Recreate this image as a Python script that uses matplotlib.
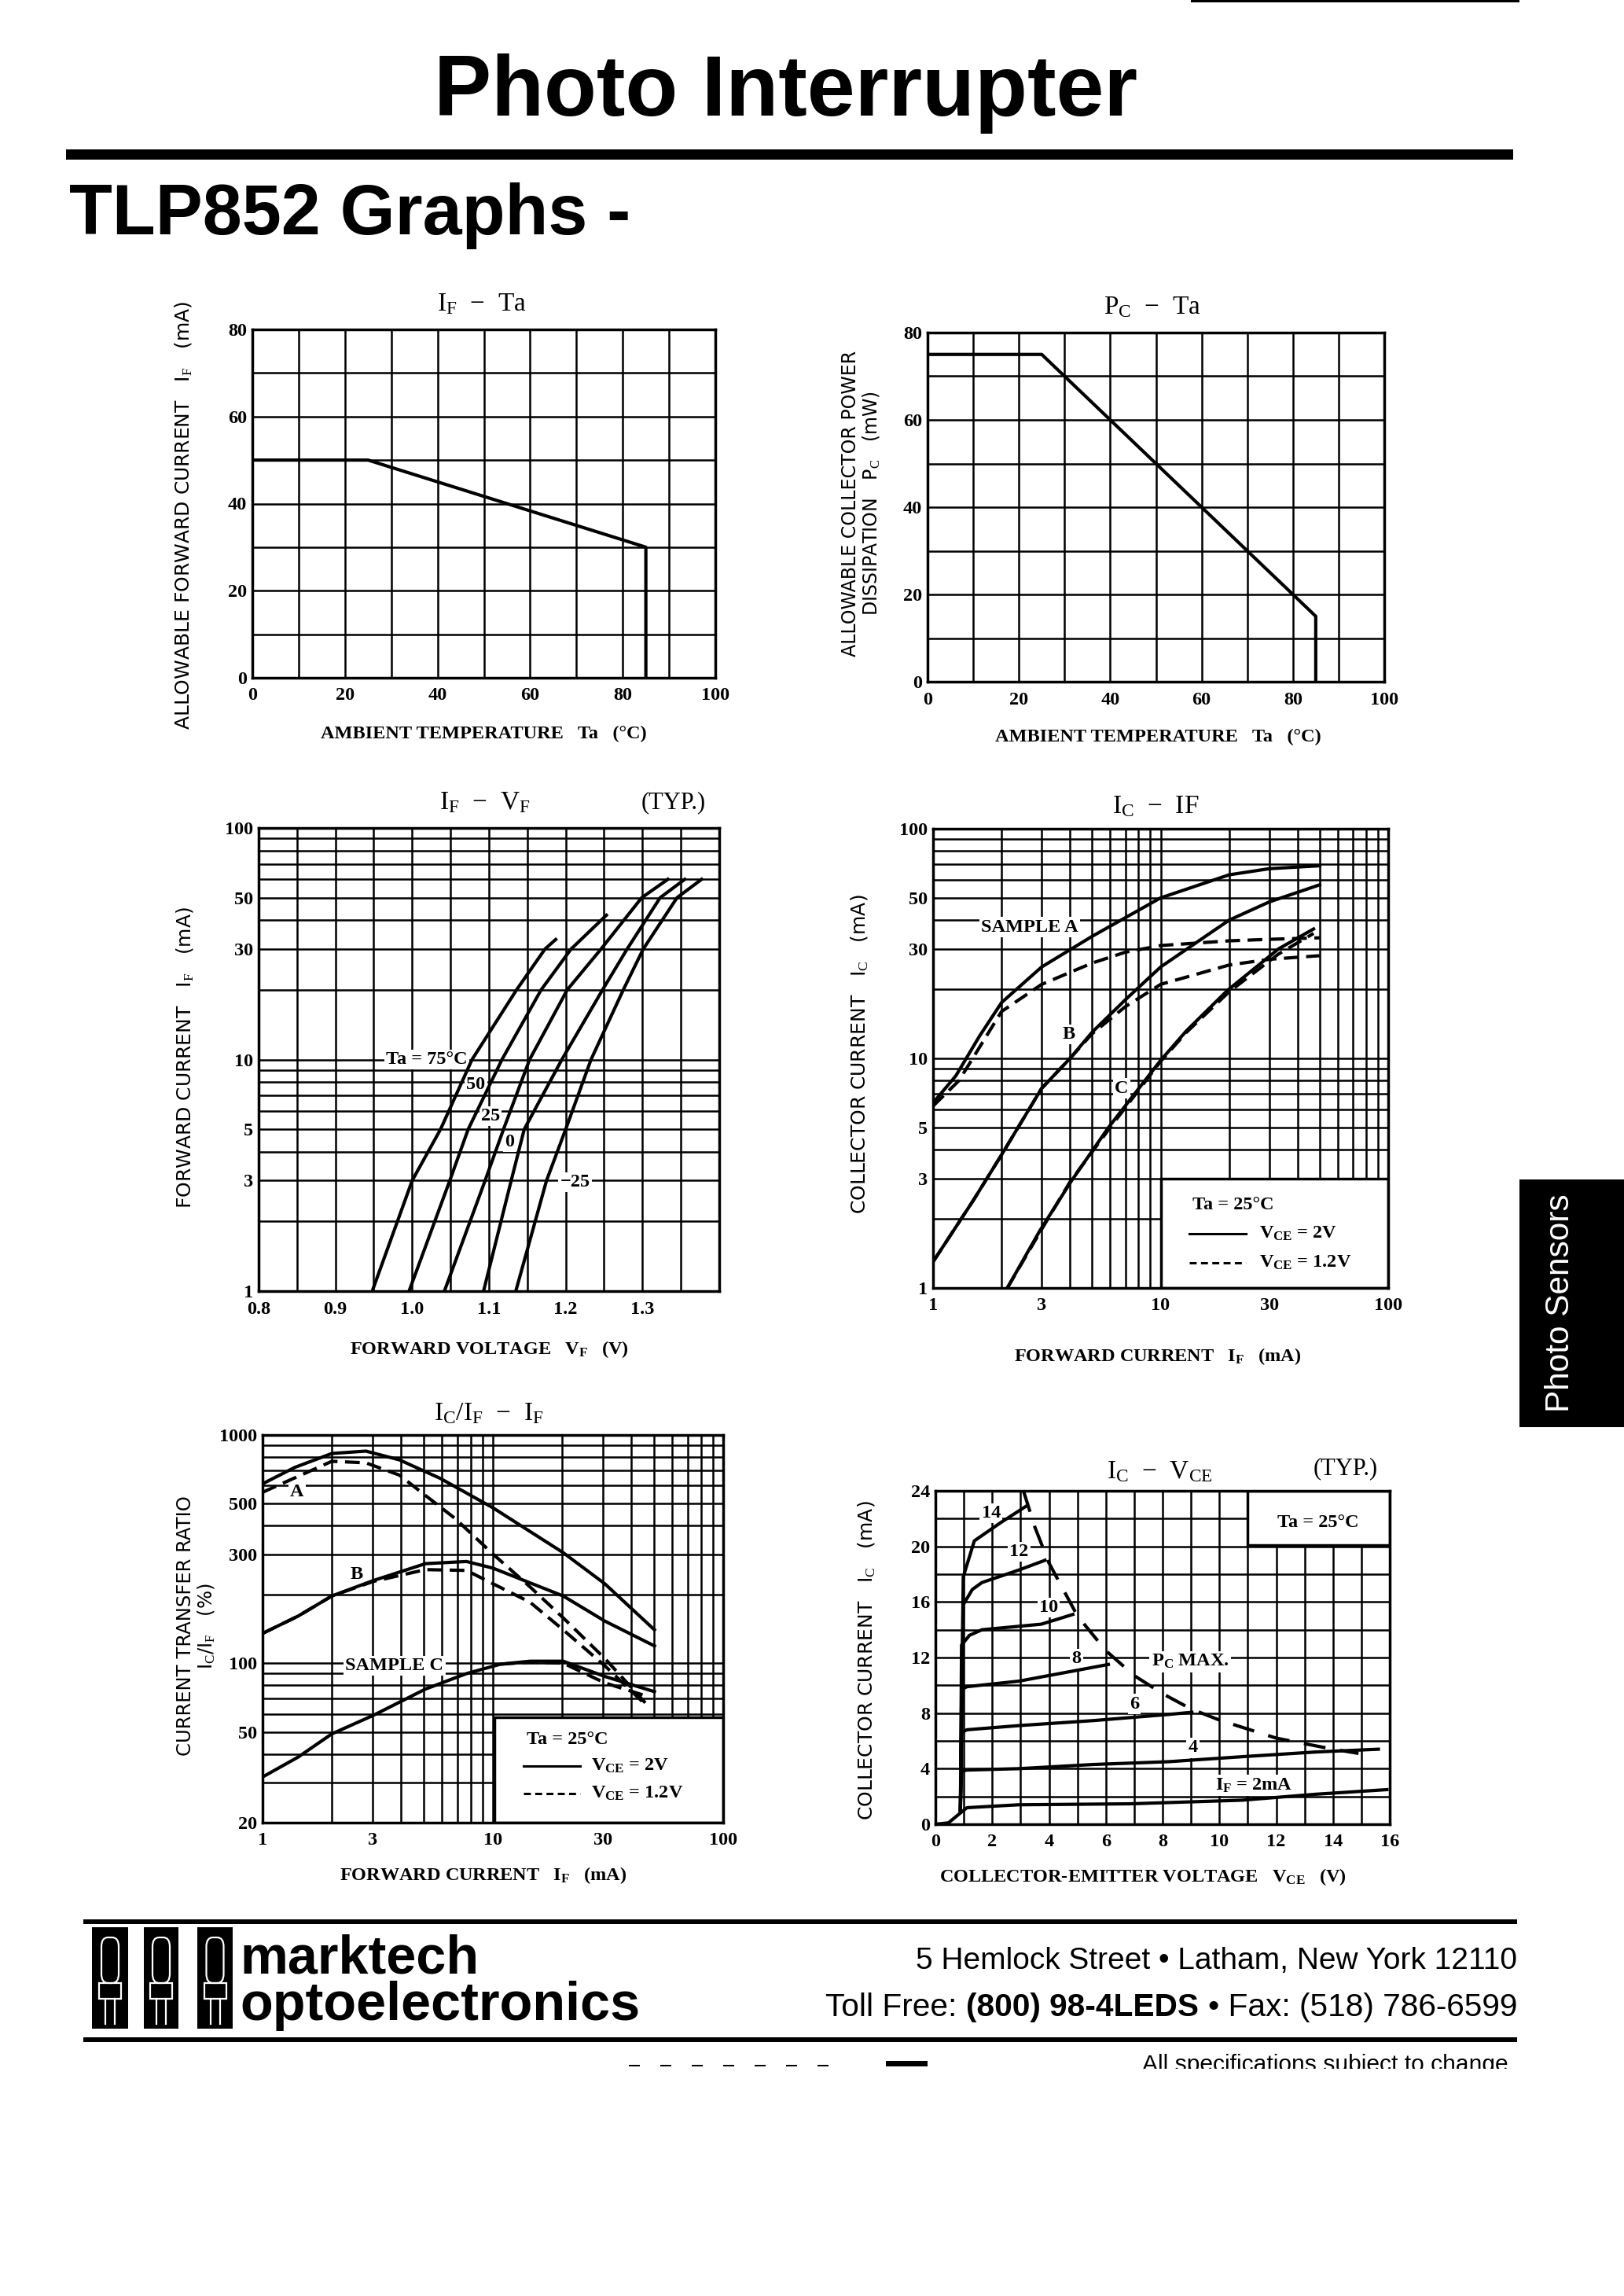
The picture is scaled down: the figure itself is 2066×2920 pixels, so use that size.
import matplotlib
matplotlib.use("Agg")
import matplotlib.pyplot as plt
from matplotlib.ticker import MultipleLocator, LogLocator, NullFormatter
from matplotlib.patches import Rectangle, FancyBboxPatch
from matplotlib.lines import Line2D
from matplotlib import font_manager

# ---------------------------------------------------------------- data
# IF - Ta
ifta_ta = [0, 25, 85, 85]
ifta_if = [50, 50, 30, 0]
# PC - Ta
pcta_ta = [0, 25, 85, 85]
pcta_pc = [75, 75, 15, 0]

# IF - VF  (Ta = 75, 50, 25, 0, -25 degC)
vf_75 = [0.948, 1.000, 1.037, 1.078, 1.136, 1.173, 1.187]
if_75 = [1.0, 3.0, 5.0, 10.0, 20.0, 30.0, 33.0]
vf_50 = [0.996, 1.049, 1.073, 1.117, 1.168, 1.207, 1.253]
if_50 = [1.0, 3.0, 5.0, 10.0, 20.0, 30.0, 42.0]
vf_25 = [1.042, 1.095, 1.119, 1.153, 1.202, 1.246, 1.299, 1.333]
if_25 = [1.0, 3.0, 5.0, 10.0, 20.0, 30.0, 50.0, 60.0]
vf_0 = [1.093, 1.129, 1.146, 1.195, 1.248, 1.280, 1.323, 1.355]
if_0 = [1.0, 3.0, 5.0, 10.0, 20.0, 30.0, 50.0, 60.0]
vf_m25 = [1.135, 1.175, 1.200, 1.233, 1.275, 1.301, 1.345, 1.377]
if_m25 = [1.0, 3.0, 5.0, 10.0, 20.0, 30.0, 50.0, 60.0]

# IC - IF  (samples A, B, C; VCE = 2 V solid, 1.2 V dashed)
icif_a_if = [1, 1.26, 1.6, 2.0, 3.0, 5.0, 10, 20, 30, 50]
icif_a_ic = [6.4, 8.4, 12.5, 17.5, 25, 34, 50, 63, 67, 69]
icif_a_if_d = [1, 1.3, 2.0, 3.0, 5.0, 7, 10, 20, 30, 50]
icif_a_ic_d = [6.2, 8.0, 16, 21, 26, 29, 31, 32.5, 33, 33.5]
icif_b_if = [1, 1.5, 2, 3, 4, 5, 7, 10, 20, 30, 50]
icif_b_ic = [1.3, 2.4, 3.8, 7.4, 10, 13, 18, 25, 40, 48, 57]
icif_b_if_d = [1, 1.5, 2, 3, 4, 5, 7, 10, 20, 30, 50]
icif_b_ic_d = [1.3, 2.4, 3.8, 7.4, 10, 12.8, 16.8, 21, 25.5, 27, 28]
icif_c_if = [2.12, 2.94, 4.05, 5.9, 10, 13, 19.7, 33, 47]
icif_c_ic = [1, 1.77, 2.92, 5.0, 9.8, 13.2, 19.8, 30, 36.6]
icif_c_if_d = [2.12, 3, 4, 6, 10, 13, 20, 33, 47]
icif_c_ic_d = [1, 1.8, 2.9, 5.0, 9.7, 13, 19.5, 28.5, 35]

# IC/IF - IF
ctr_a_if = [1, 1.38, 2.0, 2.81, 3.93, 5.9, 10, 20.2, 30.6, 50.3]
ctr_a = [611, 721, 830, 850, 778, 646, 480, 305, 223, 140]
ctr_a_if_d = [1, 2.0, 2.81, 3.93, 5.1, 6.87, 10, 14.5, 20.2, 30.6, 45.9]
ctr_a_d = [561, 767, 755, 667, 543, 430, 301, 216, 158, 105, 67]
ctr_b_if = [1, 1.43, 2.0, 3.02, 5.1, 7.68, 10, 20.2, 30.6, 50.3]
ctr_b = [135, 161, 197, 230, 273, 279, 261, 197, 153, 119]
ctr_b_if_d = [1, 1.43, 2.0, 3.02, 5.1, 7.68, 10, 14.5, 20.2, 30.6, 45.9]
ctr_b_d = [135, 161, 197, 228, 257, 255, 223, 185, 140, 97.5, 66]
ctr_c_if = [1, 1.43, 2.0, 3.02, 5.1, 7.68, 10.8, 14.5, 20.2, 30.6, 50.3]
ctr_c = [31.7, 38.8, 49, 59, 77, 90, 99, 102, 102, 87.5, 75]
ctr_c_if_d = [10.8, 14.5, 20.2, 30.6, 45.9]
ctr_c_d = [99, 101, 100, 82, 72]

# IC - VCE  (IF = 2 ... 14 mA)
vce_2 = [0, 0.46, 0.85, 1.11, 2.94, 6.87, 10.8, 13.4, 15.9]
ic_2 = [0, 0.1, 0.76, 1.19, 1.4, 1.47, 1.73, 2.16, 2.49]
vce_4 = [0.88, 0.92, 1.11, 2.94, 5.56, 8.2, 10.8, 13.4, 15.6]
ic_4 = [1.0, 3.8, 3.9, 4.0, 4.3, 4.5, 4.86, 5.2, 5.4]
vce_6 = [0.88, 0.92, 1.11, 2.94, 5.56, 8.2, 9.03]
ic_6 = [1.0, 6.6, 6.8, 7.1, 7.46, 7.9, 8.06]
vce_8 = [0.88, 0.92, 1.11, 2.94, 6.09]
ic_8 = [1.0, 9.7, 9.9, 10.3, 11.5]
vce_10 = [0.88, 0.92, 1.2, 1.64, 3.73, 4.84]
ic_10 = [1.0, 12.9, 13.6, 14.0, 14.4, 15.1]
vce_12 = [0.88, 0.98, 1.3, 1.64, 2.94, 3.86]
ic_12 = [1.0, 15.8, 16.9, 17.4, 18.3, 19.0]
vce_14 = [0.88, 0.98, 1.37, 2.29, 3.2]
ic_14 = [1.0, 17.8, 20.4, 21.7, 22.9]
pcmax_vce = [3.1, 3.5, 4.0, 5.0, 6.0, 7.0, 8.0, 9.0, 10, 12, 14, 14.9]
pcmax_ic = [24, 21.4, 18.8, 15.0, 12.5, 10.7, 9.4, 8.3, 7.5, 6.2, 5.4, 5.1]

# ---------------------------------------------------------------- style
SERIF = "Liberation Serif"
SANS = "Liberation Sans"
names = {f.name for f in font_manager.fontManager.ttflist}
NARROW = "Liberation Sans Narrow" if "Liberation Sans Narrow" in names else SANS
plt.rcParams.update({
    "font.family": [SERIF, "DejaVu Serif"],
    "mathtext.fontset": "custom",
    "mathtext.rm": SERIF,
    "mathtext.bf": SERIF + ":bold",
    "mathtext.it": SERIF + ":italic",
    "mathtext.default": "rm",
})

W, H = 2066, 2920
fig = plt.figure(figsize=(W / 100, H / 100), dpi=100)
fig.patch.set_facecolor("white")
R = fig.canvas.get_renderer()

GRID_LW = 1.8
CURVE_LW = 3.0
TICK_FS = 17.5
LABEL_FS = 17.5
XLAB_FS = 17.5
YLAB_FS = 18
TITLE_FS = 24
DASH = (0, (4.5, 2.3))
DASH_LEG = (0, (2.9, 1.8))
DASH_PC = (0, (6.7, 4.5))


def px_axes(l, t, r, b):
    return fig.add_axes([l / W, 1 - b / H, (r - l) / W, (b - t) / H])


def ftext(x, y, s, **kw):
    return fig.text(x / W, 1 - y / H, s, **kw)


def prect(x0, y0, x1, y1, **kw):
    r = Rectangle((x0 / W, 1 - y1 / H), (x1 - x0) / W, (y1 - y0) / H,
                  transform=fig.transFigure, **kw)
    fig.add_artist(r)
    return r


def fit_width(t, target):
    w = t.get_window_extent(R).width
    t.set_fontsize(t.get_fontsize() * target / w)


def fit_height(t, target):
    h = t.get_window_extent(R).height
    t.set_fontsize(t.get_fontsize() * target / h)


def style_axes(ax):
    ax.set_axisbelow(True)
    ax.grid(True, which="both", color="black", lw=GRID_LW)
    ax.tick_params(which="both", length=0, labelsize=TICK_FS)
    ax.tick_params(axis="y", pad=5)
    ax.tick_params(axis="x", pad=9)
    for sp in ax.spines.values():
        sp.set_linewidth(2.5)


def set_ticks(ax, xt, xl, yt, yl):
    ax.set_xticks(xt, xl, fontweight="bold", fontsize=TICK_FS)
    ax.set_yticks(yt, yl, fontweight="bold", fontsize=TICK_FS)


def log_minor(axis):
    axis.set_minor_locator(LogLocator(base=10, subs=range(1, 10), numticks=50))
    axis.set_minor_formatter(NullFormatter())


def inlabel(ax, x, y, s, ha="center", size=LABEL_FS, bg=True):
    kw = dict(ha=ha, va="center", fontsize=size, fontweight="bold", zorder=2.5)
    if bg:
        kw["bbox"] = dict(fc="white", ec="none", pad=1.5)
    return ax.text(x, y, s, **kw)


def ylab(x, y, s, size=YLAB_FS):
    return ftext(x, y, s, rotation=90, ha="center", va="center",
                 fontsize=size, family=["DejaVu Sans"])


def xlab(x, y, s, size=XLAB_FS):
    return ftext(x, y, s, ha="center", va="center", fontsize=size, fontweight="bold")


def title(x, y, s, size=TITLE_FS):
    return ftext(x, y, s, ha="center", va="center", fontsize=size)


# ---------------------------------------------------------------- header
prect(1515, 0, 1933, 3, color="black", lw=0)
t = ftext(1000, 147, "Photo Interrupter", ha="center", va="baseline",
          family=[SANS], fontweight="bold", fontsize=70)
fit_width(t, 895)
prect(84, 190, 1925, 203, color="black", lw=0)
t = ftext(88, 298, "TLP852 Graphs -", ha="left", va="baseline",
          family=[SANS], fontweight="bold", fontsize=60)
fit_width(t, 715)

# ---------------------------------------------------------------- chart 1: IF - Ta
ax1 = px_axes(321, 419, 910, 862)
ax1.plot(ifta_ta, ifta_if, color="black", lw=CURVE_LW, zorder=3)
ax1.set_xlim(0, 100)
ax1.set_ylim(0, 80)
style_axes(ax1)
ax1.xaxis.set_minor_locator(MultipleLocator(10))
ax1.yaxis.set_minor_locator(MultipleLocator(10))
set_ticks(ax1, [0, 20, 40, 60, 80, 100], ["0", "20", "40", "60", "80", "100"],
          [0, 20, 40, 60, 80], ["0", "20", "40", "60", "80"])
title(613, 387, r"I$_{\mathrm{F}}$  −  Ta")
xlab(615, 933, "AMBIENT TEMPERATURE   Ta   (°C)")
ylab(234, 655, r"ALLOWABLE FORWARD CURRENT   I$_{\mathrm{F}}$   (mA)")

# ---------------------------------------------------------------- chart 2: PC - Ta
ax2 = px_axes(1180, 423, 1761, 867)
ax2.plot(pcta_ta, pcta_pc, color="black", lw=CURVE_LW, zorder=3)
ax2.set_xlim(0, 100)
ax2.set_ylim(0, 80)
style_axes(ax2)
ax2.xaxis.set_minor_locator(MultipleLocator(10))
ax2.yaxis.set_minor_locator(MultipleLocator(10))
set_ticks(ax2, [0, 20, 40, 60, 80, 100], ["0", "20", "40", "60", "80", "100"],
          [0, 20, 40, 60, 80], ["0", "20", "40", "60", "80"])
title(1466, 391, r"P$_{\mathrm{C}}$  −  Ta")
xlab(1473, 937, "AMBIENT TEMPERATURE   Ta   (°C)")
ylab(1082, 640, "ALLOWABLE COLLECTOR POWER", size=17)
ylab(1108, 640, r"DISSIPATION   P$_{\mathrm{C}}$   (mW)", size=17)

# ---------------------------------------------------------------- chart 3: IF - VF
ax3 = px_axes(329, 1053, 915, 1642)
for v, i in [(vf_75, if_75), (vf_50, if_50), (vf_25, if_25), (vf_0, if_0), (vf_m25, if_m25)]:
    ax3.plot(v, i, color="black", lw=CURVE_LW, zorder=3)
ax3.set_yscale("log")
ax3.set_xlim(0.8, 1.4)
ax3.set_ylim(1, 100)
style_axes(ax3)
ax3.xaxis.set_minor_locator(MultipleLocator(0.05))
log_minor(ax3.yaxis)
set_ticks(ax3, [0.8, 0.9, 1.0, 1.1, 1.2, 1.3], ["0.8", "0.9", "1.0", "1.1", "1.2", "1.3"],
          [1, 3, 5, 10, 30, 50, 100], ["1", "3", "5", "10", "30", "50", "100"])
ax3.yaxis.set_minor_formatter(NullFormatter())
inlabel(ax3, 1.072, 10, "Ta = 75°C", ha="right")
inlabel(ax3, 1.083, 7.8, "50")
inlabel(ax3, 1.102, 5.7, "25")
inlabel(ax3, 1.127, 4.4, "0")
inlabel(ax3, 1.212, 2.95, "−25")
title(617, 1021, r"I$_{\mathrm{F}}$  −  V$_{\mathrm{F}}$")
title(857, 1021, "(TYP.)", size=22)
xlab(622, 1716, r"FORWARD VOLTAGE   V$_{\mathbf{F}}$   (V)")
ylab(236, 1345, r"FORWARD CURRENT   I$_{\mathrm{F}}$   (mA)")

# ---------------------------------------------------------------- chart 4: IC - IF
ax4 = px_axes(1187, 1054, 1766, 1638)
for x, y, ls in [(icif_a_if, icif_a_ic, "-"), (icif_a_if_d, icif_a_ic_d, DASH),
                 (icif_b_if, icif_b_ic, "-"), (icif_b_if_d, icif_b_ic_d, DASH),
                 (icif_c_if, icif_c_ic, "-"), (icif_c_if_d, icif_c_ic_d, DASH)]:
    ax4.plot(x, y, color="black", lw=CURVE_LW, ls=ls, zorder=3)
ax4.set_xscale("log")
ax4.set_yscale("log")
ax4.set_xlim(1, 100)
ax4.set_ylim(1, 100)
style_axes(ax4)
log_minor(ax4.xaxis)
log_minor(ax4.yaxis)
set_ticks(ax4, [1, 3, 10, 30, 100], ["1", "3", "10", "30", "100"],
          [1, 3, 5, 10, 30, 50, 100], ["1", "3", "5", "10", "30", "50", "100"])
ax4.xaxis.set_minor_formatter(NullFormatter())
ax4.yaxis.set_minor_formatter(NullFormatter())
inlabel(ax4, 2.66, 37.3, "SAMPLE A")
inlabel(ax4, 3.95, 12.7, "B")
inlabel(ax4, 6.73, 7.4, "C")
ax4.add_patch(Rectangle((0.5, 0.0), 0.5, 0.2386, transform=ax4.transAxes,
                        fc="white", ec="black", lw=2.5, zorder=1.5))
ax4.text(0.659, 0.18, "Ta = 25°C", transform=ax4.transAxes, ha="center", va="center",
         fontsize=LABEL_FS, fontweight="bold", zorder=4)
ax4.add_line(Line2D([0.563, 0.687], [0.119, 0.119], transform=ax4.transAxes,
                    color="black", lw=2.2, zorder=4))
ax4.add_line(Line2D([0.563, 0.687], [0.055, 0.055], transform=ax4.transAxes,
                    color="black", lw=2.2, ls=DASH_LEG, zorder=4))
ax4.text(0.716, 0.119, r"V$_{\mathbf{CE}}$ = 2V", transform=ax4.transAxes, ha="left",
         va="center", fontsize=LABEL_FS, fontweight="bold", zorder=4)
ax4.text(0.716, 0.055, r"V$_{\mathbf{CE}}$ = 1.2V", transform=ax4.transAxes, ha="left",
         va="center", fontsize=LABEL_FS, fontweight="bold", zorder=4)
title(1470, 1026, r"I$_{\mathrm{C}}$  −  IF")
xlab(1473, 1725, r"FORWARD CURRENT   I$_{\mathbf{F}}$   (mA)")
ylab(1094, 1341, r"COLLECTOR CURRENT   I$_{\mathrm{C}}$   (mA)")

# ---------------------------------------------------------------- chart 5: IC/IF - IF
ax5 = px_axes(334, 1825, 920, 2318)
for x, y, ls in [(ctr_a_if, ctr_a, "-"), (ctr_a_if_d, ctr_a_d, DASH),
                 (ctr_b_if, ctr_b, "-"), (ctr_b_if_d, ctr_b_d, DASH),
                 (ctr_c_if, ctr_c, "-"), (ctr_c_if_d, ctr_c_d, DASH)]:
    ax5.plot(x, y, color="black", lw=CURVE_LW, ls=ls, zorder=3)
ax5.set_xscale("log")
ax5.set_yscale("log")
ax5.set_xlim(1, 100)
ax5.set_ylim(20, 1000)
style_axes(ax5)
log_minor(ax5.xaxis)
log_minor(ax5.yaxis)
set_ticks(ax5, [1, 3, 10, 30, 100], ["1", "3", "10", "30", "100"],
          [20, 50, 100, 300, 500, 1000], ["20", "50", "100", "300", "500", "1000"])
ax5.xaxis.set_minor_formatter(NullFormatter())
ax5.yaxis.set_minor_formatter(NullFormatter())
inlabel(ax5, 1.41, 561, "A")
inlabel(ax5, 2.56, 245, "B")
inlabel(ax5, 3.74, 97.5, "SAMPLE C")
ax5.add_patch(Rectangle((0.504, 0.0), 0.496, 0.272, transform=ax5.transAxes,
                        fc="white", ec="black", lw=2.5, zorder=1.5))
ax5.text(0.661, 0.214, "Ta = 25°C", transform=ax5.transAxes, ha="center", va="center",
         fontsize=LABEL_FS, fontweight="bold", zorder=4)
ax5.add_line(Line2D([0.567, 0.689], [0.147, 0.147], transform=ax5.transAxes,
                    color="black", lw=2.2, zorder=4))
ax5.add_line(Line2D([0.567, 0.689], [0.0745, 0.0745], transform=ax5.transAxes,
                    color="black", lw=2.2, ls=DASH_LEG, zorder=4))
ax5.text(0.713, 0.147, r"V$_{\mathbf{CE}}$ = 2V", transform=ax5.transAxes, ha="left",
         va="center", fontsize=LABEL_FS, fontweight="bold", zorder=4)
ax5.text(0.713, 0.0745, r"V$_{\mathbf{CE}}$ = 1.2V", transform=ax5.transAxes, ha="left",
         va="center", fontsize=LABEL_FS, fontweight="bold", zorder=4)
title(622, 1798, r"I$_{\mathrm{C}}$/I$_{\mathrm{F}}$  −  I$_{\mathrm{F}}$")
xlab(615, 2385, r"FORWARD CURRENT   I$_{\mathbf{F}}$   (mA)")
ylab(236, 2068, "CURRENT TRANSFER RATIO", size=17.5)
ylab(262, 2068, r"I$_{\mathrm{C}}$/I$_{\mathrm{F}}$   (%)", size=17.5)

# ---------------------------------------------------------------- chart 6: IC - VCE
ax6 = px_axes(1190, 1896, 1768, 2320)
for x, y in [(vce_2, ic_2), (vce_4, ic_4), (vce_6, ic_6), (vce_8, ic_8),
             (vce_10, ic_10), (vce_12, ic_12), (vce_14, ic_14)]:
    ax6.plot(x, y, color="black", lw=CURVE_LW, zorder=3)
ax6.plot(pcmax_vce, pcmax_ic, color="black", lw=CURVE_LW, ls=DASH_PC, zorder=3)
ax6.set_xlim(0, 16)
ax6.set_ylim(0, 24)
style_axes(ax6)
ax6.xaxis.set_minor_locator(MultipleLocator(1))
ax6.yaxis.set_minor_locator(MultipleLocator(2))
set_ticks(ax6, [0, 2, 4, 6, 8, 10, 12, 14, 16], ["0", "2", "4", "6", "8", "10", "12", "14", "16"],
          [0, 4, 8, 12, 16, 20, 24], ["0", "4", "8", "12", "16", "20", "24"])
ax6.add_patch(Rectangle((0.6875, 0.8375), 0.3125, 0.1625, transform=ax6.transAxes,
                        fc="white", ec="black", lw=2.5, zorder=1.5))
ax6.text(0.843, 0.905, "Ta = 25°C", transform=ax6.transAxes, ha="center", va="center",
         fontsize=LABEL_FS, fontweight="bold", zorder=4)
inlabel(ax6, 1.96, 22.4, "14")
inlabel(ax6, 2.94, 19.6, "12")
inlabel(ax6, 3.99, 15.6, "10")
inlabel(ax6, 4.97, 11.9, "8")
inlabel(ax6, 7.0, 8.65, "6")
inlabel(ax6, 9.07, 5.5, "4")
inlabel(ax6, 11.2, 2.8, r"I$_{\mathbf{F}}$ = 2mA")
inlabel(ax6, 8.97, 11.7, r"P$_{\mathbf{C}}$ MAX.")
title(1475, 1872, r"I$_{\mathrm{C}}$  −  V$_{\mathrm{CE}}$")
title(1712, 1868, "(TYP.)", size=22)
xlab(1454, 2387, r"COLLECTOR-EMITTER VOLTAGE   V$_{\mathbf{CE}}$   (V)")
ylab(1103, 2112, r"COLLECTOR CURRENT   I$_{\mathrm{C}}$   (mA)")

# ---------------------------------------------------------------- side tab
prect(1933, 1500, 2066, 1815, color="black", lw=0)
t = ftext(1985, 1657, "Photo Sensors", rotation=90, ha="center", va="center",
          color="white", family=[SANS], fontsize=28)
fit_height(t, 278)

# ---------------------------------------------------------------- footer
prect(106, 2441, 1930, 2447, color="black", lw=0)
prect(106, 2591, 1930, 2597, color="black", lw=0)
for x0, x1 in [(117, 163), (183, 227), (251, 296)]:
    prect(x0, 2451, x1, 2580, color="black", lw=0)
    cx = (x0 + x1) / 2
    dome = FancyBboxPatch(((cx - 11) / W, 1 - 2522 / H), 22 / W, 58 / H,
                          boxstyle="round,pad=0,rounding_size=0.004",
                          transform=fig.transFigure, fc="none", ec="white", lw=1.6)
    fig.add_artist(dome)
    prect(cx - 14, 2522, cx + 14, 2542, fc="none", ec="white", lw=1.6)
    for dx in (-6, 6):
        fig.add_artist(Line2D([(cx + dx) / W] * 2, [1 - 2542 / H, 1 - 2574 / H],
                              transform=fig.transFigure, color="white", lw=1.6))

# company name: one two-line text (baseline anchor = last line), width fitted to 510 px
t = ftext(305, 2569, "marktech\noptoelectronics", ha="left", va="baseline",
          family=[SANS], fontweight="bold", fontsize=50, linespacing=0.9)
fit_width(t, 510)

t = ftext(1930, 2504, "5 Hemlock Street • Latham, New York 12110", ha="right",
          va="baseline", family=[NARROW], fontsize=30)
fit_width(t, 764)
addr_fs = t.get_fontsize()

# Toll free line: three pieces, laid out from the right
pieces = [("Toll Free:", "normal"), ("(800) 98-4LEDS", "bold"),
          ("• Fax: (518) 786-6599", "normal")]
fs = addr_fs
for _ in range(2):
    widths = []
    for s, wt in pieces:
        tt = fig.text(0, 0, s, family=[NARROW], fontweight=wt, fontsize=fs)
        widths.append(tt.get_window_extent(R).width)
        tt.remove()
    gap = 0.28 * fs * 100 / 72
    total = sum(widths) + 2 * gap
    fs = fs * 881 / total
widths = []
for s, wt in pieces:
    tt = fig.text(0, 0, s, family=[NARROW], fontweight=wt, fontsize=fs)
    widths.append(tt.get_window_extent(R).width)
    tt.remove()
gap = 0.28 * fs * 100 / 72
xr = 1930
for (s, wt), w in zip(reversed(pieces), reversed(widths)):
    ftext(xr, 2564, s, ha="right", va="baseline", family=[NARROW], fontweight=wt, fontsize=fs)
    xr -= w + gap

# bottom scraps
prect(1127, 2621, 1180, 2628, color="black", lw=0)
for x in range(800, 1080, 40):
    prect(x, 2626, x + 14, 2628, color="black", lw=0)
t = ftext(1919, 2612, "All specifications subject to change", ha="right", va="top",
          family=[NARROW], fontsize=24)
fit_width(t, 466)
prect(1400, 2631, 1960, 2700, color="white", lw=0, zorder=20)

fig.savefig("out.png", dpi=100, facecolor="white")
